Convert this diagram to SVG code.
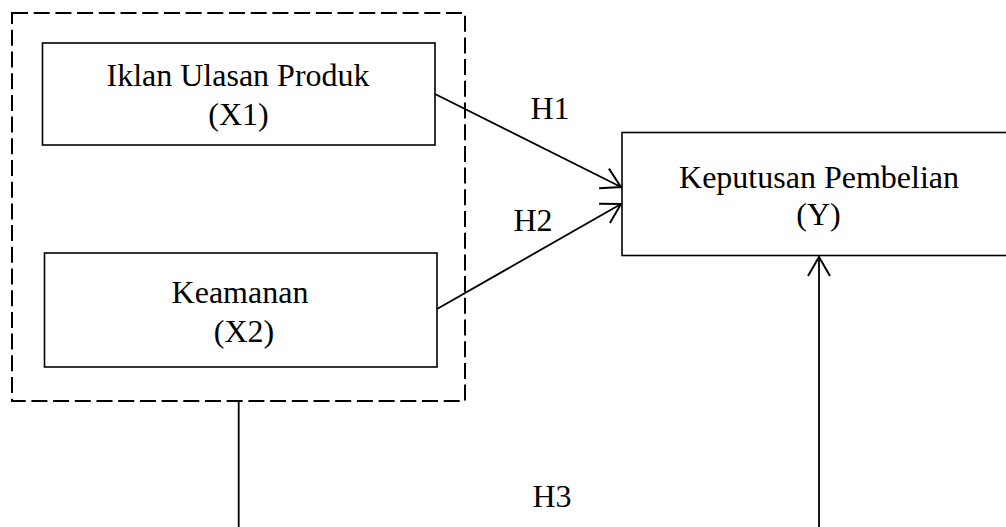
<svg xmlns="http://www.w3.org/2000/svg" width="1006" height="527" viewBox="0 0 1006 527">
  <style>
    .box { fill: #ffffff; stroke: #000000; stroke-width: 1.6; }
    .group { fill: none; stroke: #000000; stroke-width: 2; stroke-dasharray: 16 5.7; }
    .conn { fill: none; stroke: #000000; stroke-width: 1.8; }
    .lbl { font-family: "Liberation Serif", "Times New Roman", serif; font-size: 32px; fill: #000000; text-anchor: middle; }
  </style>
  <defs>
    <marker id="arrow" markerUnits="userSpaceOnUse" markerWidth="30" markerHeight="30" refX="0" refY="0" orient="auto" overflow="visible">
      <path d="M-19,-11 L0,0 L-19,11" fill="none" stroke="#000000" stroke-width="2"/>
    </marker>
  </defs>
  <rect width="1006" height="527" fill="#ffffff"/>

  <g id="group-x">
    <rect class="group" x="12" y="13" width="453" height="388"/>
  </g>

  <g id="node-x1">
    <rect class="box" x="42.5" y="43" width="392.5" height="102"/>
    <text class="lbl" x="238" y="86">Iklan Ulasan Produk</text>
    <text class="lbl" x="238.5" y="125">(X1)</text>
  </g>

  <g id="node-x2">
    <rect class="box" x="44.5" y="253" width="392.5" height="114"/>
    <text class="lbl" x="240" y="303">Keamanan</text>
    <text class="lbl" x="244" y="342">(X2)</text>
  </g>

  <g id="node-y">
    <rect class="box" x="622" y="132.5" width="400" height="123"/>
    <text class="lbl" x="819" y="188">Keputusan Pembelian</text>
    <text class="lbl" x="818.5" y="225">(Y)</text>
  </g>

  <g id="connectors">
    <line class="conn" x1="435" y1="94" x2="621" y2="187" marker-end="url(#arrow)"/>
    <line class="conn" x1="437" y1="309" x2="621" y2="204" marker-end="url(#arrow)"/>
    <line class="conn" x1="238.7" y1="401" x2="238.7" y2="530"/>
    <line class="conn" x1="819" y1="530" x2="819" y2="257" marker-end="url(#arrow)"/>
    <text class="lbl" x="550" y="119">H1</text>
    <text class="lbl" x="533" y="231">H2</text>
    <text class="lbl" x="552" y="507">H3</text>
  </g>
</svg>
